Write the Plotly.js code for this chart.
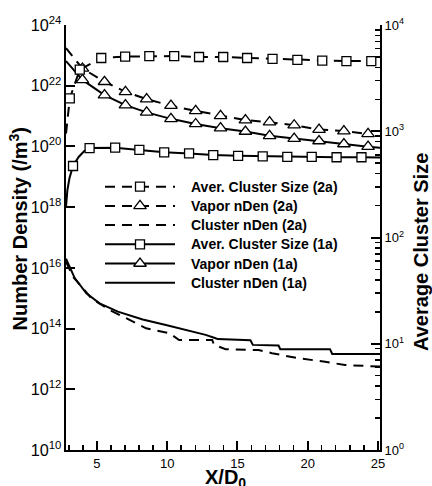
<!DOCTYPE html>
<html><head><meta charset="utf-8">
<script src="https://cdn.plot.ly/plotly-3.0.1.min.js"></script>
<style>html,body{margin:0;padding:0;background:#fff}#chart{width:432px;height:486px}</style>
</head><body><div id="chart"></div>
<script>
// ---- data (x = X/D0) ----
// Average cluster size (right axis)
const sizeX_2a = [2.8, 3.07, 3.78, 5.31, 7.01, 8.73, 10.5, 12.27, 13.99, 15.69, 17.5, 19.27, 21.04, 22.76, 24.53];
const sizeY_2a = [950, 2040, 3800, 4890, 5040, 5100, 5100, 5000, 5000, 4890, 4790, 4690, 4630, 4580, 4580];
const sizeM_2a = [0, 1, 1, 1, 1, 1, 1, 1, 1, 1, 1, 1, 1, 1, 1];

const sizeX_1a = [2.8, 2.9, 3.05, 3.3, 3.7, 4.1, 4.48, 6.3, 8.02, 9.79, 11.56, 13.28, 15.05, 16.8, 18.55, 20.29, 22.06, 23.83, 25.15];
const sizeY_1a = [194, 280, 363, 471, 573, 652, 695, 700, 667, 634, 619, 597, 587, 581, 575, 573, 569, 569, 566];
const sizeM_1a = [0, 0, 0, 1, 0, 0, 1, 1, 1, 1, 1, 1, 1, 1, 1, 1, 1, 1, 0];

// Vapor number density (left axis, /m^3)
const vapX_2a = [2.8, 3.97, 5.54, 7.03, 8.54, 10.27, 12.03, 13.80, 15.57, 17.29, 19.04, 20.81, 22.58, 24.30];
const vapY_2a = [1.74e23, 3.7e22, 1.35e22, 6.3e21, 3.6e21, 2.2e21, 1.48e21, 1.02e21, 7.4e20, 6.3e20, 5.0e20, 3.6e20, 3.2e20, 2.6e20];
const vapM_2a = [0, 1, 1, 1, 1, 1, 1, 1, 1, 1, 1, 1, 1, 1];

const vapX_1a = [2.8, 3.97, 5.54, 7.03, 8.54, 10.27, 12.03, 13.80, 15.57, 17.29, 19.04, 20.81, 22.58, 24.30, 25.15];
const vapY_1a = [6.5e22, 1.55e22, 4.9e21, 2.3e21, 1.32e21, 8.1e20, 5.5e20, 4.0e20, 3.1e20, 2.24e20, 1.82e20, 1.51e20, 1.2e20, 9.8e19, 9.0e19];
const vapM_1a = [0, 1, 1, 1, 1, 1, 1, 1, 1, 1, 1, 1, 1, 1, 0];

// Cluster number density (left axis, /m^3)
const cnX_2a = [2.8, 3.30, 4.60, 5.90, 7.08, 8.50, 10.15, 10.5, 10.85, 13.21, 13.33, 14.16, 16.51, 17.46, 19.35, 21.24, 22.65, 25.15];
const cnY_2a = [1.6e16, 5.1e15, 1.0e15, 4.1e14, 2.2e14, 1.02e14, 7.1e13, 5.4e13, 4.2e13, 4.2e13, 2.9e13, 2.1e13, 1.95e13, 1.55e13, 1.05e13, 8.1e12, 6.3e12, 5.6e12];

const cnX_1a = [2.8, 3.42, 4.25, 5.19, 6.49, 8.26, 9.91, 11.33, 12.74, 13.45, 13.6, 15.93, 16.1, 17.93, 18.05, 21.59, 21.75, 25.15];
const cnY_1a = [2.0e16, 4.6e15, 1.45e15, 6.8e14, 3.6e14, 2.0e14, 1.32e14, 8.9e13, 6.2e13, 4.8e13, 4.5e13, 4.1e13, 2.9e13, 2.75e13, 2.1e13, 2.1e13, 1.45e13, 1.45e13];

const names = ['Aver. Cluster Size (2a)', 'Vapor nDen (2a)', 'Cluster nDen (2a)',
               'Aver. Cluster Size (1a)', 'Vapor nDen (1a)', 'Cluster nDen (1a)'];

// right-axis tick labels
const rightTickVals = [1, 10, 100, 1000, 10000];
const rightTickText = ['10<sup>0</sup>', '10<sup>1</sup>', '10<sup>2</sup>', '10<sup>3</sup>', '10<sup>4</sup>'];

// ---- styles ----
const DASH = '10px,7px';
const LW = 2;
function mk(sym) { return {symbol: sym, size: sym === 'square' ? 9 : 11, color: '#fff', line: {color: '#000', width: 1.3}}; }

const series = [
  {name: names[0], x: sizeX_2a, y: sizeY_2a, m: sizeM_2a, dash: DASH, sym: 'square', axis: 'y2'},
  {name: names[1], x: vapX_2a, y: vapY_2a, m: vapM_2a, dash: DASH, sym: 'triangle-up', axis: 'y'},
  {name: names[2], x: cnX_2a, y: cnY_2a, m: null, dash: DASH, sym: null, axis: 'y'},
  {name: names[3], x: sizeX_1a, y: sizeY_1a, m: sizeM_1a, dash: 'solid', sym: 'square', axis: 'y2'},
  {name: names[4], x: vapX_1a, y: vapY_1a, m: vapM_1a, dash: 'solid', sym: 'triangle-up', axis: 'y'},
  {name: names[5], x: cnX_1a, y: cnY_1a, m: null, dash: 'solid', sym: null, axis: 'y'}
];

const traces = [];
// drawn lines
series.forEach(s => {
  traces.push({type: 'scatter', name: s.name, x: s.x, y: s.y, yaxis: s.axis, mode: 'lines',
               line: {color: '#000', width: LW, dash: s.dash}, showlegend: false, hoverinfo: 'skip'});
});
// drawn markers
series.forEach(s => {
  if (!s.sym) return;
  const mx = [], my = [];
  s.x.forEach((v, i) => { if (s.m[i]) { mx.push(v); my.push(s.y[i]); } });
  traces.push({type: 'scatter', name: s.name, x: mx, y: my, yaxis: s.axis, mode: 'markers', marker: mk(s.sym),
               showlegend: false, hoverinfo: 'skip', cliponaxis: false});
});

// ---- legend key (drawn on a pixel-scaled overlay axis pair) ----
const LEG = {x0: 105, x1: 175, xm: 140, xt: 189, y0: 186.7, dy: 19.2};
const annotations = [];
series.forEach((s, i) => {
  const yy = LEG.y0 + i * LEG.dy;
  traces.push({type: 'scatter', x: [LEG.x0, LEG.x1], y: [yy, yy], xaxis: 'x3', yaxis: 'y3', mode: 'lines',
               line: {color: '#000', width: LW, dash: s.dash}, showlegend: false, hoverinfo: 'skip'});
  if (s.sym) traces.push({type: 'scatter', x: [LEG.xm], y: [yy], xaxis: 'x3', yaxis: 'y3', mode: 'markers',
               marker: mk(s.sym), showlegend: false, hoverinfo: 'skip'});
  annotations.push({xref: 'x3', yref: 'y3', x: LEG.xt, y: yy, xanchor: 'left', yanchor: 'middle', showarrow: false,
                    text: s.name, font: {size: 14, weight: 'bold'}});
});

const FONT = 'Liberation Sans, Arial, Helvetica, sans-serif';
const TITLE_FONT = {size: 20, weight: 'bold', family: FONT, color: '#000'};
annotations.push({xref: 'paper', yref: 'paper', x: (18 - 66) / 314, y: 0.519, xanchor: 'center', yanchor: 'middle',
                  textangle: -90, showarrow: false, text: 'Number Density (/m<sup>3</sup>)', font: TITLE_FONT});
annotations.push({xref: 'paper', yref: 'paper', x: (421 - 66) / 314, y: 0.466, xanchor: 'center', yanchor: 'middle',
                  textangle: -90, showarrow: false, text: 'Average Cluster Size', font: TITLE_FONT});
annotations.push({xref: 'paper', yref: 'paper', x: (225.5 - 66) / 314, y: 1 - (464 - 25) / 425, xanchor: 'center', yanchor: 'top',
                  showarrow: false, text: 'X/D<sub>0</sub>', font: TITLE_FONT});

const axBase = {showline: true, linewidth: 2, linecolor: '#000', mirror: false, showgrid: false, zeroline: false,
                ticks: 'inside', ticklen: 9, tickwidth: 2, tickcolor: '#000', tickfont: {size: 13, family: FONT, color: '#000'}};

const layout = {
  width: 432, height: 486,
  margin: {l: 66, r: 52, t: 25, b: 36},
  paper_bgcolor: '#fff', plot_bgcolor: '#fff',
  font: {family: FONT, color: '#000', size: 13},
  showlegend: false,
  annotations: annotations,
  xaxis: Object.assign({}, axBase, {
    range: [2.8, 25.15], tick0: 0, dtick: 5,
    minor: {dtick: 1, tick0: 0, ticks: 'inside', ticklen: 5, tickwidth: 1.5, tickcolor: '#000', showgrid: false}
  }),
  yaxis: Object.assign({}, axBase, {
    type: 'log', range: [10, 24], dtick: 2, exponentformat: 'power'
  }),
  yaxis2: Object.assign({}, axBase, {
    type: 'log', range: [0, 4], tickmode: 'array', tickvals: rightTickVals, ticktext: rightTickText,
    overlaying: 'y', side: 'right', anchor: 'x',
    minor: {dtick: 'D1', ticks: 'inside', ticklen: 5, tickwidth: 1.5, tickcolor: '#000', showgrid: false}
  }),
  xaxis3: {overlaying: 'x', anchor: 'y3', range: [66, 380], visible: false, fixedrange: true},
  yaxis3: {overlaying: 'y', anchor: 'x3', range: [450, 25], visible: false, fixedrange: true}
};

Plotly.newPlot('chart', traces, layout, {staticPlot: true, displayModeBar: false});
</script>
</body></html>
